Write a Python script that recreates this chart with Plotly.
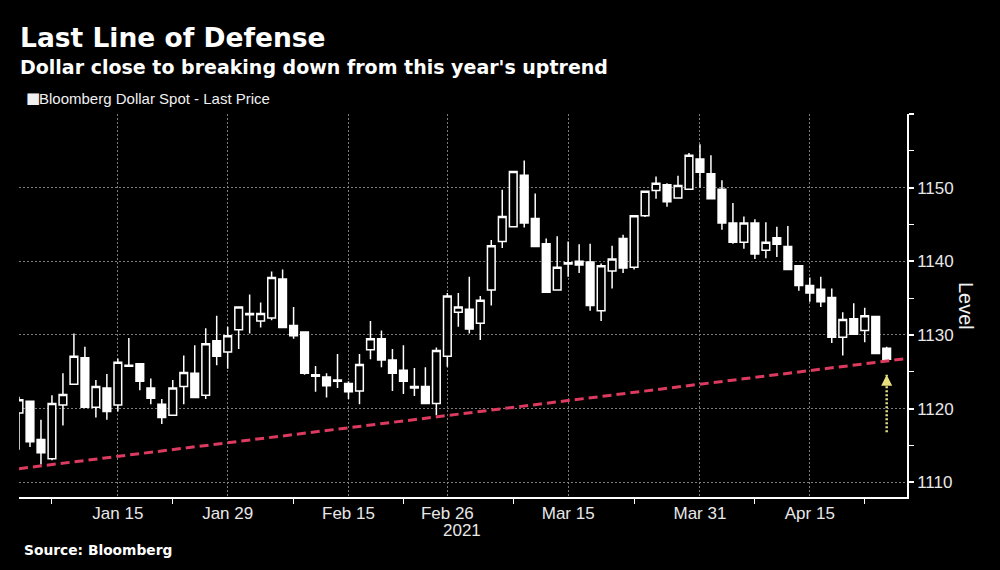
import pandas as pd
import plotly.graph_objects as go

# ---- data -------------------------------------------------------------
holidays = ["2021-04-02"]
dates = [d.strftime("%Y-%m-%d") for d in pd.bdate_range("2021-01-04", "2021-04-26")
         if d.strftime("%Y-%m-%d") not in holidays]

open_ = [1119.4, 1121.0, 1115.8, 1113.2, 1120.5, 1123.3, 1126.9, 1120.2, 1122.8, 1120.5,
         1125.9, 1126.1, 1122.8, 1120.6, 1119.1, 1123.0, 1124.8, 1121.8, 1129.2, 1127.7,
         1130.7, 1132.9, 1131.9, 1132.3, 1137.6, 1131.3, 1130.4, 1124.6, 1124.3, 1123.9,
         1123.4, 1122.4, 1128.0, 1129.5, 1126.6, 1125.2, 1123.0, 1123.0, 1120.7, 1127.1,
         1133.1, 1133.5, 1131.6, 1136.1, 1142.7, 1144.7, 1151.7, 1145.8, 1142.4, 1136.1,
         1139.8, 1140.0, 1139.9, 1133.3, 1138.7, 1143.1, 1139.2, 1146.2, 1149.6, 1150.4,
         1148.6, 1149.8, 1153.9, 1151.9, 1149.8, 1145.2, 1142.6, 1145.2, 1141.5, 1143.2,
         1142.0, 1139.4, 1136.7, 1136.2, 1135.1, 1129.7, 1132.2, 1130.6, 1132.5, 1128.2]

high = [1121.6, 1121.0, 1118.5, 1121.8, 1124.8, 1130.2, 1128.4, 1123.9, 1124.7, 1126.8,
        1129.6, 1126.2, 1124.1, 1121.3, 1123.9, 1127.2, 1128.6, 1130.9, 1132.6, 1131.1,
        1133.9, 1135.5, 1134.4, 1138.6, 1138.9, 1133.8, 1130.5, 1125.8, 1124.8, 1127.4,
        1123.7, 1127.4, 1131.9, 1130.6, 1128.1, 1128.6, 1125.5, 1125.6, 1128.3, 1135.7,
        1135.7, 1137.9, 1135.3, 1142.9, 1149.7, 1152.3, 1153.7, 1149.2, 1143.1, 1143.4,
        1142.7, 1142.3, 1142.4, 1139.7, 1142.1, 1143.6, 1146.3, 1149.6, 1151.5, 1150.6,
        1151.6, 1154.7, 1155.9, 1154.4, 1151.0, 1147.9, 1146.1, 1145.7, 1145.3, 1144.7,
        1144.8, 1139.5, 1137.8, 1137.9, 1136.3, 1133.1, 1134.3, 1133.7, 1132.6, 1128.4]

low = [1114.4, 1114.8, 1112.4, 1113.0, 1117.7, 1123.2, 1120.1, 1118.8, 1118.5, 1119.6,
       1125.7, 1122.5, 1120.6, 1117.9, 1119.0, 1120.6, 1121.4, 1121.3, 1125.9, 1125.4,
       1128.1, 1130.2, 1131.0, 1132.0, 1130.9, 1129.5, 1124.6, 1122.3, 1121.5, 1122.8,
       1121.3, 1120.6, 1126.7, 1125.6, 1122.4, 1122.0, 1121.7, 1120.7, 1119.1, 1125.7,
       1131.1, 1130.2, 1129.3, 1134.0, 1141.8, 1144.6, 1144.6, 1141.9, 1135.7, 1136.0,
       1137.9, 1138.4, 1133.3, 1131.9, 1136.3, 1138.4, 1138.9, 1146.0, 1148.5, 1147.4,
       1148.5, 1149.7, 1150.0, 1148.4, 1144.3, 1142.4, 1141.7, 1140.3, 1140.4, 1140.6,
       1138.9, 1136.0, 1134.5, 1133.8, 1128.9, 1127.2, 1130.0, 1129.0, 1127.4, 1126.7]

close = [1121.2, 1115.5, 1114.0, 1120.7, 1121.9, 1127.1, 1120.2, 1123.0, 1119.6, 1126.3,
         1125.75, 1123.7, 1121.4, 1118.8, 1122.8, 1124.9, 1121.5, 1128.8, 1127.1, 1129.9,
         1133.8, 1132.75, 1132.9, 1137.8, 1131.0, 1129.9, 1124.8, 1124.4, 1123.1, 1123.7,
         1122.3, 1126.0, 1129.5, 1126.6, 1124.8, 1123.7, 1122.8, 1120.7, 1127.9, 1135.3,
         1133.8, 1130.8, 1134.7, 1142.1, 1146.1, 1152.2, 1145.2, 1142.0, 1135.8, 1139.2,
         1139.65, 1139.5, 1134.0, 1139.4, 1140.3, 1139.1, 1146.2, 1149.5, 1150.6, 1148.1,
         1150.3, 1154.4, 1152.1, 1148.5, 1145.2, 1142.6, 1145.2, 1141.0, 1142.6, 1142.3,
         1138.9, 1136.7, 1135.7, 1134.5, 1129.7, 1132.1, 1130.1, 1132.6, 1127.5, 1126.7]

# uptrend support line (start / end of the plotted window)
trend_x = ["2021-01-04", "2021-04-27 20:24"]
trend_y = [1111.85, 1126.8]

# highlight arrow under the last session
arrow_x = "2021-04-26"
arrow_y = [1116.8, 1124.6]

x_tick_vals = ["2021-01-15", "2021-01-29", "2021-02-15", "2021-02-26",
               "2021-03-15", "2021-03-31", "2021-04-15"]
x_tick_text = ["Jan 15", "Jan 29", "Feb 15", "Feb 26", "Mar 15", "Mar 31", "Apr 15"]
x_minor_vals = ["2021-01-07", "2021-01-22", "2021-02-08", "2021-02-22",
                "2021-03-08", "2021-03-23", "2021-04-08", "2021-04-22"]
y_tick_vals = [1110, 1120, 1130, 1140, 1150, 1160]
y_tick_text = ["1110", "1120", "1130", "1140", "1150", ""]
y_minor_vals = [1115, 1125, 1135, 1145, 1155]
x_range = ["2021-01-04", "2021-04-27 20:24"]
y_range = [1108, 1160]

# ---- figure -----------------------------------------------------------
GRID = "#7d7d7d"
TICKFONT = dict(family="Liberation Sans, Arial, sans-serif", size=17, color="#e8e8e8")

fig = go.Figure()
fig.add_trace(go.Candlestick(
    x=dates, open=open_, high=high, low=low, close=close,
    increasing=dict(line=dict(color="white", width=1.5), fillcolor="black"),
    decreasing=dict(line=dict(color="white", width=1.5), fillcolor="white"),
    whiskerwidth=0, showlegend=False, name="Bloomberg Dollar Spot - Last Price",
))
fig.add_trace(go.Scatter(
    x=trend_x, y=trend_y, mode="lines",
    line=dict(color="#dc3a5e", width=3, dash="9px,5px"),
    showlegend=False, hoverinfo="skip",
))
fig.add_trace(go.Scatter(
    x=[arrow_x, arrow_x], y=arrow_y, mode="lines",
    line=dict(color="#e6df7e", width=2.5, dash="2px,2px"),
    showlegend=False, hoverinfo="skip",
))

fig.update_layout(
    width=1000, height=570,
    paper_bgcolor="black", plot_bgcolor="black",
    margin=dict(l=19, r=93, t=114, b=73),
    showlegend=False,
    boxgap=0.3, boxgroupgap=0,
    xaxis=dict(
        type="date", range=x_range,
        rangebreaks=[dict(bounds=["sat", "mon"]), dict(values=holidays)],
        rangeslider=dict(visible=False),
        tickmode="array", tickvals=x_tick_vals, ticktext=x_tick_text,
        ticks="", tickfont=TICKFONT,
        showgrid=True, gridcolor=GRID, gridwidth=1, griddash="2px,2px",
        showline=True, linecolor="white", linewidth=1.5,
        minor=dict(tickmode="array", tickvals=x_minor_vals, ticks="outside",
                   ticklen=5, tickcolor="white", tickwidth=1, showgrid=False),
        zeroline=False,
    ),
    yaxis=dict(
        side="right", range=y_range,
        tickmode="array", tickvals=y_tick_vals, ticktext=y_tick_text,
        ticks="outside", ticklen=5, tickcolor="white", tickwidth=1.5,
        tickfont=TICKFONT,
        showgrid=True, gridcolor=GRID, gridwidth=1, griddash="2px,2px",
        showline=True, linecolor="white", linewidth=1.5,
        minor=dict(tickmode="array", tickvals=y_minor_vals, ticks="outside",
                   ticklen=5, tickcolor="white", tickwidth=1, showgrid=False),
        zeroline=False,
    ),
)

def px_x(px):
    return (px - 19) / 888.0

def px_y(py):
    return (497 - py) / 383.0

ann = [
    dict(text="<b>Last Line of Defense</b>", x=px_x(18), y=px_y(37), xanchor="left", yanchor="middle",
         font=dict(family="DejaVu Sans", size=26.5, color="white")),
    dict(text="<b>Dollar close to breaking down from this year's uptrend</b>", x=px_x(18), y=px_y(67),
         xanchor="left", yanchor="middle", font=dict(family="DejaVu Sans", size=19, color="white")),
    dict(text="■", x=px_x(24), y=px_y(98), xanchor="left", yanchor="middle",
         font=dict(family="DejaVu Sans", size=15, color="#f0f0f0")),
    dict(text="Bloomberg Dollar Spot - Last Price", x=px_x(37), y=px_y(99), xanchor="left", yanchor="middle",
         font=dict(family="Liberation Sans, Arial", size=15, color="#f0f0f0")),
    dict(text="2021", x=px_x(462), y=px_y(530), xanchor="center", yanchor="middle",
         font=TICKFONT),
    dict(text="Level", x=px_x(966), y=px_y(306), xanchor="center", yanchor="middle", textangle=90,
         font=dict(family="Liberation Sans, Arial", size=20, color="#f0f0f0")),
    dict(text="<b>Source: Bloomberg</b>", x=px_x(22), y=px_y(550), xanchor="left", yanchor="middle",
         font=dict(family="DejaVu Sans", size=13.8, color="white")),
]
for a in ann:
    a.update(xref="paper", yref="paper", showarrow=False)
    fig.add_annotation(**a)

# arrow head of the highlight arrow
fig.add_annotation(x=arrow_x, y=arrow_y[1], xref="x", yref="y", text="", showarrow=True,
                   ax=0, ay=9, arrowhead=2, arrowsize=1.1, arrowwidth=2, arrowcolor="#e6df7e")

fig.write_html("out.html", config={"displayModeBar": False},
               post_script="document.body.style.margin='0';document.body.style.background='black';")
